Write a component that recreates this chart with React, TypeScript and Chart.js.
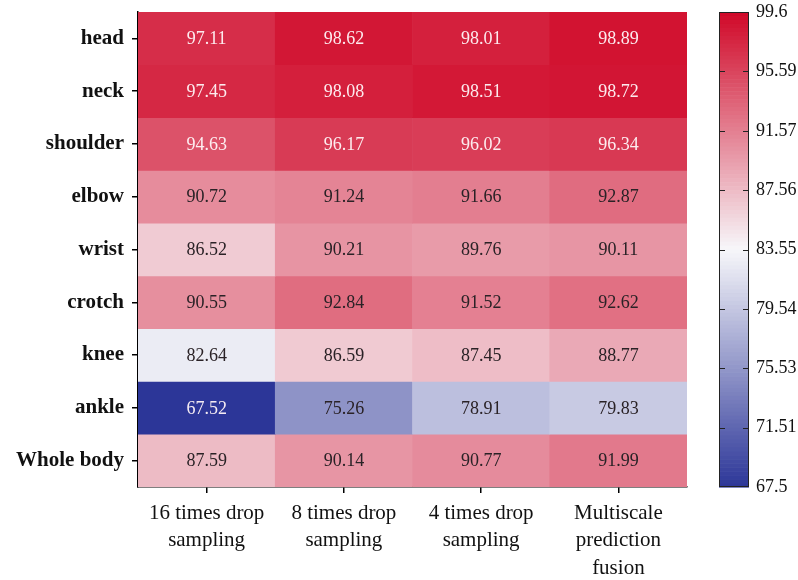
import React, { useEffect, useRef } from "react";
import { Chart, registerables } from "chart.js";

Chart.register(...registerables);

const rows = ["head", "neck", "shoulder", "elbow", "wrist", "crotch", "knee", "ankle", "Whole body"];
const columns = [
  ["16 times drop", "sampling"],
  ["8 times drop", "sampling"],
  ["4 times drop", "sampling"],
  ["Multiscale", "prediction", "fusion"],
];
const drop16 = [97.11, 97.45, 94.63, 90.72, 86.52, 90.55, 82.64, 67.52, 87.59];
const drop8 = [98.62, 98.08, 96.17, 91.24, 90.21, 92.84, 86.59, 75.26, 90.14];
const drop4 = [98.01, 98.51, 96.02, 91.66, 89.76, 91.52, 87.45, 78.91, 90.77];
const multiscale = [98.89, 98.72, 96.34, 92.87, 90.11, 92.62, 88.77, 79.83, 91.99];
const series = [drop16, drop8, drop4, multiscale];
const colorbarTicks = [67.5, 71.51, 75.53, 79.54, 83.55, 87.56, 91.57, 95.59, 99.6];
const colorbarLabels = ["67.5", "71.51", "75.53", "79.54", "83.55", "87.56", "91.57", "95.59", "99.6"];

const COLOR_MIN = 67.5;
const COLOR_MAX = 99.6;
const COLOR_MID = 83.55;
const LOW = [44, 54, 152];
const MID = [247, 247, 250];
const HIGH = [208, 8, 40];

function rgbFor(v: number): number[] {
  let a: number[], b: number[], t: number;
  if (v <= COLOR_MID) {
    a = LOW; b = MID; t = (v - COLOR_MIN) / (COLOR_MID - COLOR_MIN);
  } else {
    a = MID; b = HIGH; t = (v - COLOR_MID) / (COLOR_MAX - COLOR_MID);
  }
  t = Math.max(0, Math.min(1, t));
  return a.map((x, i) => Math.round(x + (b[i] - x) * t));
}
function colorFor(v: number): string {
  const c = rgbFor(v);
  return `rgb(${c[0]},${c[1]},${c[2]})`;
}

const FONT = '"Liberation Serif", "Times New Roman", serif';

const valueLabels = {
  id: "valueLabels",
  afterDatasetsDraw(chart: any) {
    const { ctx } = chart;
    const xs = chart.scales.x;
    const ys = chart.scales.y;
    ctx.save();
    ctx.font = `18px ${FONT}`;
    ctx.textAlign = "center";
    ctx.textBaseline = "middle";
    series.forEach((col, c) => {
      col.forEach((v, r) => {
        const rgb = rgbFor(v);
        const lum = 0.299 * rgb[0] + 0.587 * rgb[1] + 0.114 * rgb[2];
        ctx.fillStyle = lum < 135 ? "rgba(255,245,248,0.95)" : "#2a2226";
        ctx.fillText(v.toFixed(2), xs.getPixelForValue(c), ys.getPixelForValue(r + 0.5) + 1);
      });
    });
    ctx.restore();
  },
};

const colorbar = {
  id: "colorbar",
  afterDraw(chart: any) {
    const { ctx, chartArea } = chart;
    const s = chart.scales.y2;
    const left = chartArea.right + 32;
    const w = 30;
    const top = s.getPixelForValue(COLOR_MAX);
    const bottom = s.getPixelForValue(COLOR_MIN);
    ctx.save();
    const steps = 120;
    const h = (bottom - top) / steps;
    for (let i = 0; i < steps; i++) {
      const v = COLOR_MAX - ((i + 0.5) / steps) * (COLOR_MAX - COLOR_MIN);
      ctx.fillStyle = colorFor(v);
      ctx.fillRect(left, top + i * h, w, h + 0.6);
    }
    ctx.strokeStyle = "#222";
    ctx.lineWidth = 1;
    ctx.strokeRect(left + 0.5, top + 0.5, w - 1, bottom - top - 1);
    ctx.lineWidth = 1.2;
    colorbarTicks.forEach((t) => {
      if (t === COLOR_MIN || t === COLOR_MAX) return;
      const y = Math.round(s.getPixelForValue(t)) + 0.5;
      ctx.beginPath();
      ctx.moveTo(left, y);
      ctx.lineTo(left + 6, y);
      ctx.moveTo(left + w - 6, y);
      ctx.lineTo(left + w, y);
      ctx.stroke();
    });
    ctx.restore();
  },
};

function zeroPad(s: any) {
  s.paddingTop = 0;
  s.paddingBottom = 0;
}

export default function App() {
  const ref = useRef<HTMLCanvasElement>(null);
  useEffect(() => {
    if (!ref.current) return;
    const datasets = rows.map((_, r) => ({
      label: rows[r],
      data: columns.map(() => [r, r + 1]),
      backgroundColor: series.map((col) => colorFor(col[r])),
      borderWidth: 0,
      grouped: false,
      barPercentage: 1,
      categoryPercentage: 1,
    }));
    const chart = new Chart(ref.current, {
      type: "bar",
      data: { labels: columns as any, datasets: datasets as any },
      options: {
        animation: false,
        responsive: false,
        maintainAspectRatio: false,
        layout: { padding: { top: 12, left: 0, right: 0, bottom: 0 } },
        plugins: { legend: { display: false }, tooltip: { enabled: false } },
        scales: {
          x: {
            type: "category",
            offset: true,
            grid: { display: true, offset: false, drawOnChartArea: false, drawTicks: true, tickLength: 6, color: "#000", lineWidth: 1.5 },
            border: { display: true, color: "#000", width: 1.5 },
            ticks: { color: "#111", font: { family: FONT, size: 21, lineHeight: 1.3 }, padding: 7, maxRotation: 0, autoSkip: false },
            afterFit: (s: any) => { s.height = 93; s.paddingLeft = 0; s.paddingRight = 0; },
          },
          y: {
            type: "linear",
            min: 0,
            max: 9,
            reverse: true,
            afterBuildTicks: (s: any) => { s.ticks = rows.map((_, i) => ({ value: i + 0.5 })); },
            grid: { display: true, drawOnChartArea: false, drawTicks: true, tickLength: 6, color: "#000", lineWidth: 1.5 },
            border: { display: true, color: "#000", width: 1.5 },
            ticks: {
              color: "#111",
              font: { family: FONT, size: 21, weight: "bold" },
              padding: 8,
              autoSkip: false,
              callback: (_v: any, i: number) => rows[i],
            },
            afterFit: (s: any) => { s.width = 138; zeroPad(s); },
          },
          y2: {
            type: "linear",
            position: "right",
            min: COLOR_MIN,
            max: COLOR_MAX,
            afterBuildTicks: (s: any) => { s.ticks = colorbarTicks.map((v) => ({ value: v })); },
            grid: { display: false, drawTicks: false, drawOnChartArea: false },
            border: { display: false },
            ticks: {
              color: "#111",
              font: { family: FONT, size: 18 },
              padding: 69,
              autoSkip: false,
              callback: (_v: any, i: number) => colorbarLabels[i],
            },
            afterFit: (s: any) => { s.width = 111; zeroPad(s); },
          },
        },
      } as any,
      plugins: [valueLabels, colorbar],
    });
    return () => chart.destroy();
  }, []);
  return (
    <div style={{ position: "fixed", left: 0, top: 0, width: 798, height: 580, background: "#fff" }}>
      <canvas ref={ref} width={798} height={580} style={{ width: 798, height: 580 }} />
    </div>
  );
}
